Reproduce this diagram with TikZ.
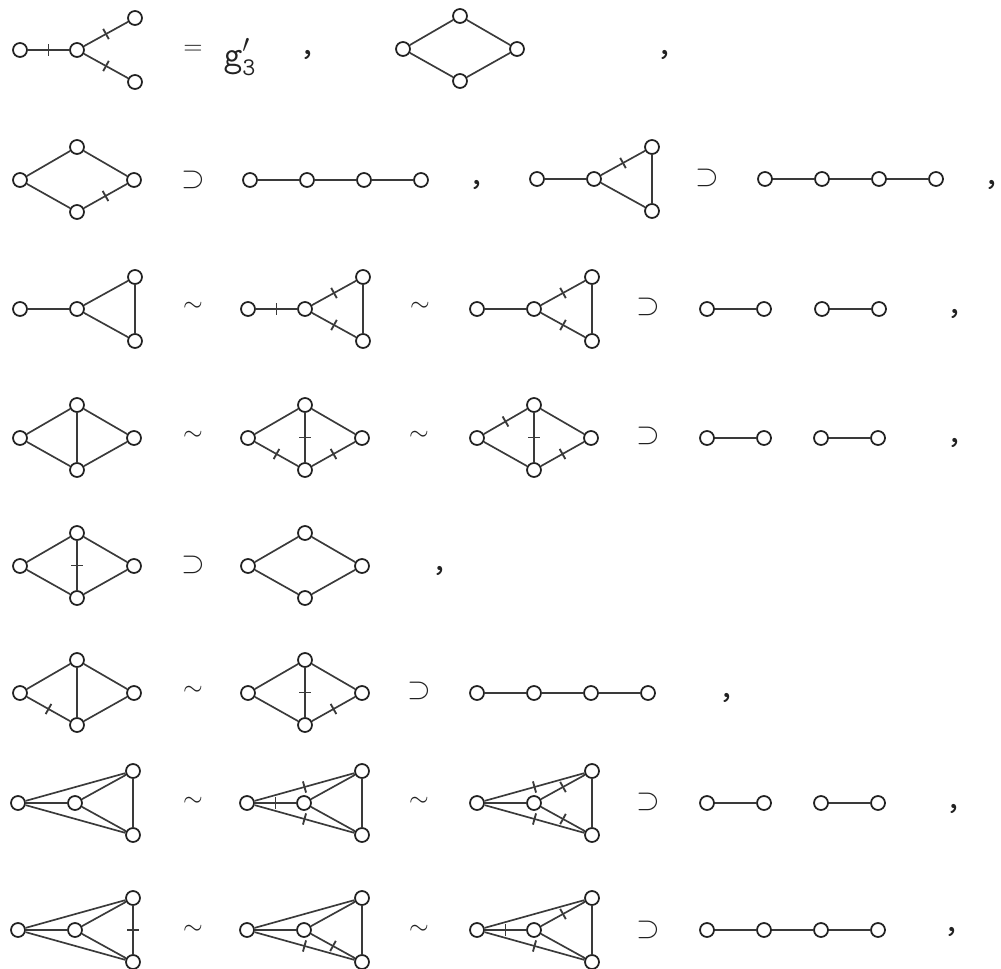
\documentclass[tikz,border=0pt]{standalone}
\usepackage{xcolor}
\usepackage{tikz}
\definecolor{InkDark}{HTML}{222222}
\definecolor{InkGrey}{HTML}{3A3A3A}
\tikzset{
    vtx/.style={circle, draw=InkDark, fill=white, line width=1pt, inner sep=0pt, minimum size=0.28cm},
    link/.style={draw=InkGrey, line width=0.95pt},
    tk/.style={sloped, draw=InkGrey, line width=0.65pt, inner sep=0pt, minimum width=0.4pt, minimum height=0.21cm},
    sym/.style={text=InkDark, inner sep=0pt, font=\Large},
    supsym/.style={text=InkDark, inner sep=0pt, font=\LARGE},
    txt/.style={text=InkDark, inner sep=0pt, font=\huge}
}
% four vertices: left, top, right, bottom
\newcommand{\diamondnodes}[3]{%
    \node[vtx] (#1l) at (#2,#3) {};
    \node[vtx] (#1t) at (#2+57,#3-33) {};
    \node[vtx] (#1r) at (#2+114,#3) {};
    \node[vtx] (#1b) at (#2+57,#3+32) {};
}
% four vertices: left, centre, top, bottom
\newcommand{\fournodes}[3]{%
    \node[vtx] (#1l) at (#2,#3) {};
    \node[vtx] (#1c) at (#2+57,#3) {};
    \node[vtx] (#1t) at (#2+115,#3-32) {};
    \node[vtx] (#1b) at (#2+115,#3+32) {};
}
\newcommand{\pathnodes}[3]{%
    \node[vtx] (#1a) at (#2,#3) {};
    \node[vtx] (#1b) at (#2+57,#3) {};
    \node[vtx] (#1c) at (#2+114,#3) {};
    \node[vtx] (#1d) at (#2+171,#3) {};
    \draw[link] (#1a) -- (#1b) -- (#1c) -- (#1d);
}
\newcommand{\pairnodes}[3]{%
    \node[vtx] (#1a) at (#2,#3) {};
    \node[vtx] (#1b) at (#2+57,#3) {};
    \draw[link] (#1a) -- (#1b);
}

\begin{document}
\begin{tikzpicture}[x=0.02cm, y=-0.02cm]
    \fill[white] (0,0) rectangle (1001,969);
    \useasboundingbox (0,0) rectangle (1001,969);

    % row 1
    \fournodes{g11}{20}{50}
    \draw[link] (g11l) -- node[tk]{} (g11c) -- node[tk]{} (g11t) (g11c) -- node[tk]{} (g11b);
    \node[sym] (eq1) at (193,50) {$=$};
    \node[txt] (gp3) at (240,57) {$\mathtt{g}'_{\mathtt{3}}$};
    \node[txt] (cm11) at (308,55) {\texttt{,}};
    \diamondnodes{g12}{403}{49}
    \draw[link] (g12l) -- (g12t) -- (g12r) -- (g12b) -- (g12l);
    \node[txt] (cm12) at (665,55) {\texttt{,}};

    % row 2
    \diamondnodes{g21}{20}{180}
    \draw[link] (g21l) -- (g21t) -- (g21r) -- node[tk]{} (g21b) -- (g21l);
    \node[supsym] (sp21) at (193,180) {$\supset$};
    \pathnodes{p21}{250}{180}
    \node[txt] (cm21) at (477,185) {\texttt{,}};
    \fournodes{g22}{537}{179}
    \draw[link] (g22l) -- (g22c) -- node[tk]{} (g22t) -- (g22b) -- (g22c);
    \node[supsym] (sp22) at (707,178) {$\supset$};
    \pathnodes{p22}{765}{179}
    \node[txt] (cm22) at (992,185) {\texttt{,}};

    % row 3
    \fournodes{g31}{20}{309}
    \draw[link] (g31l) -- (g31c) -- (g31t) -- (g31b) -- (g31c);
    \node[sym] (sm31) at (193,307) {$\sim$};
    \fournodes{g32}{248}{309}
    \draw[link] (g32l) -- node[tk]{} (g32c) -- node[tk]{} (g32t) -- (g32b) -- node[tk]{} (g32c);
    \node[sym] (sm32) at (420,307) {$\sim$};
    \fournodes{g33}{477}{309}
    \draw[link] (g33l) -- (g33c) -- node[tk]{} (g33t) -- (g33b) -- node[tk]{} (g33c);
    \node[supsym] (sp3) at (648,307) {$\supset$};
    \pairnodes{p31}{707}{309}
    \pairnodes{p32}{822}{309}
    \node[txt] (cm3) at (955,314) {\texttt{,}};

    % row 4
    \diamondnodes{g41}{20}{438}
    \draw[link] (g41l) -- (g41t) -- (g41r) -- (g41b) -- (g41l) (g41t) -- (g41b);
    \node[sym] (sm41) at (193,436) {$\sim$};
    \diamondnodes{g42}{248}{438}
    \draw[link] (g42l) -- (g42t) -- (g42r) -- node[tk]{} (g42b) -- node[tk]{} (g42l) (g42t) -- node[tk]{} (g42b);
    \node[sym] (sm42) at (419,436) {$\sim$};
    \diamondnodes{g43}{477}{438}
    \draw[link] (g43l) -- node[tk]{} (g43t) -- (g43r) -- node[tk]{} (g43b) -- (g43l) (g43t) -- node[tk]{} (g43b);
    \node[supsym] (sp4) at (648,436) {$\supset$};
    \pairnodes{p41}{707}{438}
    \pairnodes{p42}{821}{438}
    \node[txt] (cm4) at (955,443) {\texttt{,}};

    % row 5
    \diamondnodes{g51}{20}{566}
    \draw[link] (g51l) -- (g51t) -- (g51r) -- (g51b) -- (g51l) (g51t) -- node[tk]{} (g51b);
    \node[supsym] (sp5) at (193,565) {$\supset$};
    \diamondnodes{g52}{248}{566}
    \draw[link] (g52l) -- (g52t) -- (g52r) -- (g52b) -- (g52l);
    \node[txt] (cm5) at (440,571) {\texttt{,}};

    % row 6
    \diamondnodes{g61}{20}{693}
    \draw[link] (g61l) -- (g61t) -- (g61r) -- (g61b) -- node[tk]{} (g61l) (g61t) -- (g61b);
    \node[sym] (sm6) at (193,691) {$\sim$};
    \diamondnodes{g62}{248}{693}
    \draw[link] (g62l) -- (g62t) -- (g62r) -- node[tk]{} (g62b) -- (g62l) (g62t) -- node[tk]{} (g62b);
    \node[supsym] (sp6) at (419,691) {$\supset$};
    \pathnodes{p6}{477}{693}
    \node[txt] (cm6) at (727,698) {\texttt{,}};

    % row 7
    \fournodes{g71}{18}{803}
    \draw[link] (g71l) -- (g71t) (g71l) -- (g71c) (g71l) -- (g71b) (g71c) -- (g71t) -- (g71b) -- (g71c);
    \node[sym] (sm71) at (193,802) {$\sim$};
    \fournodes{g72}{247}{803}
    \draw[link] (g72l) -- node[tk]{} (g72t) (g72l) -- node[tk]{} (g72c) (g72l) -- node[tk]{} (g72b) (g72c) -- (g72t) -- (g72b) -- (g72c);
    \node[sym] (sm72) at (419,802) {$\sim$};
    \fournodes{g73}{477}{803}
    \draw[link] (g73l) -- node[tk]{} (g73t) (g73l) -- (g73c) (g73l) -- node[tk]{} (g73b) (g73c) -- node[tk]{} (g73t) -- (g73b) -- node[tk]{} (g73c);
    \node[supsym] (sp7) at (648,802) {$\supset$};
    \pairnodes{p71}{707}{803}
    \pairnodes{p72}{821}{803}
    \node[txt] (cm7) at (954,809) {\texttt{,}};

    % row 8
    \fournodes{g81}{18}{930}
    \draw[link] (g81l) -- (g81t) (g81l) -- (g81c) (g81l) -- (g81b) (g81c) -- (g81t) -- node[tk]{} (g81b) -- (g81c);
    \node[sym] (sm81) at (193,930) {$\sim$};
    \fournodes{g82}{247}{930}
    \draw[link] (g82l) -- (g82t) (g82l) -- (g82c) (g82l) -- node[tk]{} (g82b) (g82c) -- (g82t) -- (g82b) -- node[tk]{} (g82c);
    \node[sym] (sm82) at (419,930) {$\sim$};
    \fournodes{g83}{477}{930}
    \draw[link] (g83l) -- (g83t) (g83l) -- node[tk]{} (g83c) (g83l) -- node[tk]{} (g83b) (g83c) -- node[tk]{} (g83t) -- (g83b) -- (g83c);
    \node[supsym] (sp8) at (648,930) {$\supset$};
    \pathnodes{p8}{707}{930}
    \node[txt] (cm8) at (952,932) {\texttt{,}};
\end{tikzpicture}
\end{document}
